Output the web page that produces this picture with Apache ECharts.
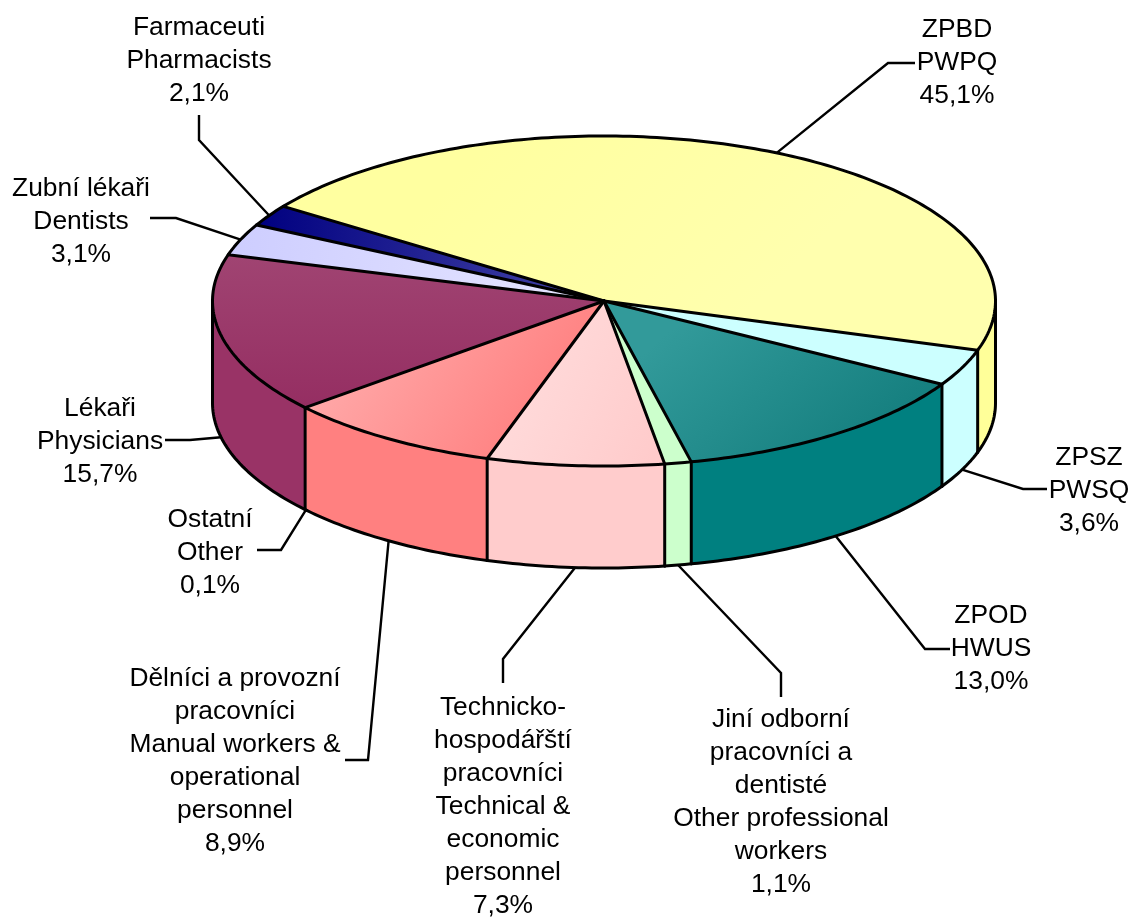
<!DOCTYPE html>
<html><head><meta charset="utf-8">
<style>html,body{margin:0;padding:0;background:#fff}#c{width:1133px;height:917px}</style>
<script src="https://cdn.jsdelivr.net/npm/echarts@6/dist/echarts.min.js"></script>
</head><body><div id="c"></div>
<script>
// Data
const categories = [
 'ZPBD\nPWPQ','ZPSZ\nPWSQ','ZPOD\nHWUS',
 'Jiní odborní\npracovníci a\ndentisté\nOther professional\nworkers',
 'Technicko-\nhospodářští\npracovníci\nTechnical &\neconomic\npersonnel',
 'Dělníci a provozní\npracovníci\nManual workers &\noperational\npersonnel',
 'Ostatní\nOther','Lékaři\nPhysicians','Zubní lékaři\nDentists','Farmaceuti\nPharmacists'];
const shares = [45.1,3.6,13.0,1.1,7.3,8.9,0.1,15.7,3.1,2.1];

// Styles
const wallColors = ['#FFFF99','#CCFFFF','#008080','#CCFFCC','#FFCCCC','#FF8080','#FF8080','#993366','#CCCCFF','#000080'];
const topGradients = [
 [0.3,0,0.6,1,'#FFFFA0','#FFFFAE'],
 [0,0,1,1,'#CCFFFF','#CCFFFF'],
 [0.3,0,0.7,1,'#329A9A','#168080'],
 [0,0,1,1,'#CCFFCC','#CCFFCC'],
 [0,0.3,1,0.8,'#FFDEDE','#FFCBCB'],
 [0,0.2,0.6,1,'#FFB0B0','#FF8686'],
 [0,0,1,1,'#FF8080','#FF8080'],
 [0.5,0,0.5,1,'#A04472','#952E62'],
 [0,0,1,0.4,'#CDCDFF','#E6E6FF'],
 [0,0,1,0,'#000080','#4848A8']
];
// Label layout: centre x, y of first line centre, elbow points of the leader line
const labelLayout = [
 {x:957,y:29.5,leg:[[888,63],[915,63]]},
 {x:1089,y:457.5,leg:[[1023,489],[1047,489]]},
 {x:991,y:615.5,leg:[[925,649],[950,649]]},
 {x:781,y:719.5,leg:[[781,673],[781,697]]},
 {x:503,y:707.5,leg:[[503,659],[503,683]]},
 {x:235,y:678.5,leg:[[368,760],[345,760]]},
 {x:210,y:519.5,leg:[[281,550],[257,550]]},
 {x:100,y:408.5,leg:[[190,440],[165,440]]},
 {x:81,y:188.5,leg:[[176,218],[150,218]]},
 {x:199,y:27.5,leg:[[199,140],[199,115]]}
];
const pie = {cx:604, cy:301, rx:391.5, ry:165, depth:102, startAngle:145};
const lineH = 33;
const FONT = '26.4px "Liberation Sans", Arial, sans-serif';
const MIN_EDGE_SWEEP = 1; // slices thinner than this many degrees share their neighbour's edge line

const rad = d => d*Math.PI/180;
const pt = (a,dy=0) => [pie.cx+pie.rx*Math.cos(rad(a)), pie.cy-pie.ry*Math.sin(rad(a))+dy];
function arc(a0,a1,dy){
  const n = Math.max(2,Math.ceil(Math.abs(a0-a1)));
  const p=[]; for(let i=0;i<=n;i++) p.push(pt(a0+(a1-a0)*i/n,dy));
  return p;
}
const total = shares.reduce((a,b)=>a+b,0);
const outline = {stroke:'#000',lineWidth:3,lineJoin:'round',lineCap:'round',fill:null};

function renderItem(params, api){
  const i = params.dataIndex;
  let before = 0; for(let k=0;k<i;k++) before += shares[k];
  const a0 = pie.startAngle - before/total*360;
  const a1 = a0 - api.value(1)/total*360;
  const mid = (a0+a1)/2;
  const wide = (a0-a1) >= MIN_EDGE_SWEEP;
  const children = [];

  // leader line
  const midFront = Math.sin(rad(mid))<0;
  const start = pt(mid, midFront?pie.depth:0);
  const L = labelLayout[i];
  children.push({type:'polyline',shape:{points:[start].concat(L.leg)},style:{stroke:'#000',lineWidth:2.4,fill:null},z2:0});

  // side wall (front half only)
  const w0 = Math.min(a0,0), w1 = Math.max(a1,-180);
  if(w0>w1){
    children.push({type:'polygon',shape:{points:arc(w0,w1,0).concat(arc(w1,w0,pie.depth))},
      style:{fill:wallColors[i]},z2:1});
    children.push({type:'polyline',shape:{points:arc(w0,w1,pie.depth)},style:outline,z2:3});
    if(wide) children.push({type:'polyline',shape:{points:[pt(w0,0),pt(w0,pie.depth)]},style:outline,z2:3});
    if(w1===-180) children.push({type:'polyline',shape:{points:[pt(w1,0),pt(w1,pie.depth)]},style:outline,z2:3});
  }
  // top face
  const g = topGradients[i];
  children.push({type:'polygon',shape:{points:[[pie.cx,pie.cy]].concat(arc(a0,a1,0))},
    style:{fill:{type:'linear',x:g[0],y:g[1],x2:g[2],y2:g[3],
      colorStops:[{offset:0,color:g[4]},{offset:1,color:g[5]}]}},z2:2});
  const rim = arc(a0,a1,0);
  children.push({type:'polyline',shape:{points:wide?[[pie.cx,pie.cy]].concat(rim):rim},style:outline,z2:3});

  // label
  const lines = categories[i].split('\n');
  lines.push(api.value(1).toFixed(1).replace('.',',')+'%');
  lines.forEach((t,k)=>children.push({type:'text',z2:5,
    style:{text:t,x:L.x,y:L.y+k*lineH,align:'center',verticalAlign:'middle',font:FONT,fill:'#000'}}));
  return {type:'group',children};
}

const chart = echarts.init(document.getElementById('c'),null,{renderer:'canvas'});
chart.setOption({
  animation:false,
  backgroundColor:'#fff',
  series:[{type:'custom',coordinateSystem:'none',renderItem,
    data:shares.map((v,i)=>[i,v])}]
});
</script></body></html>
